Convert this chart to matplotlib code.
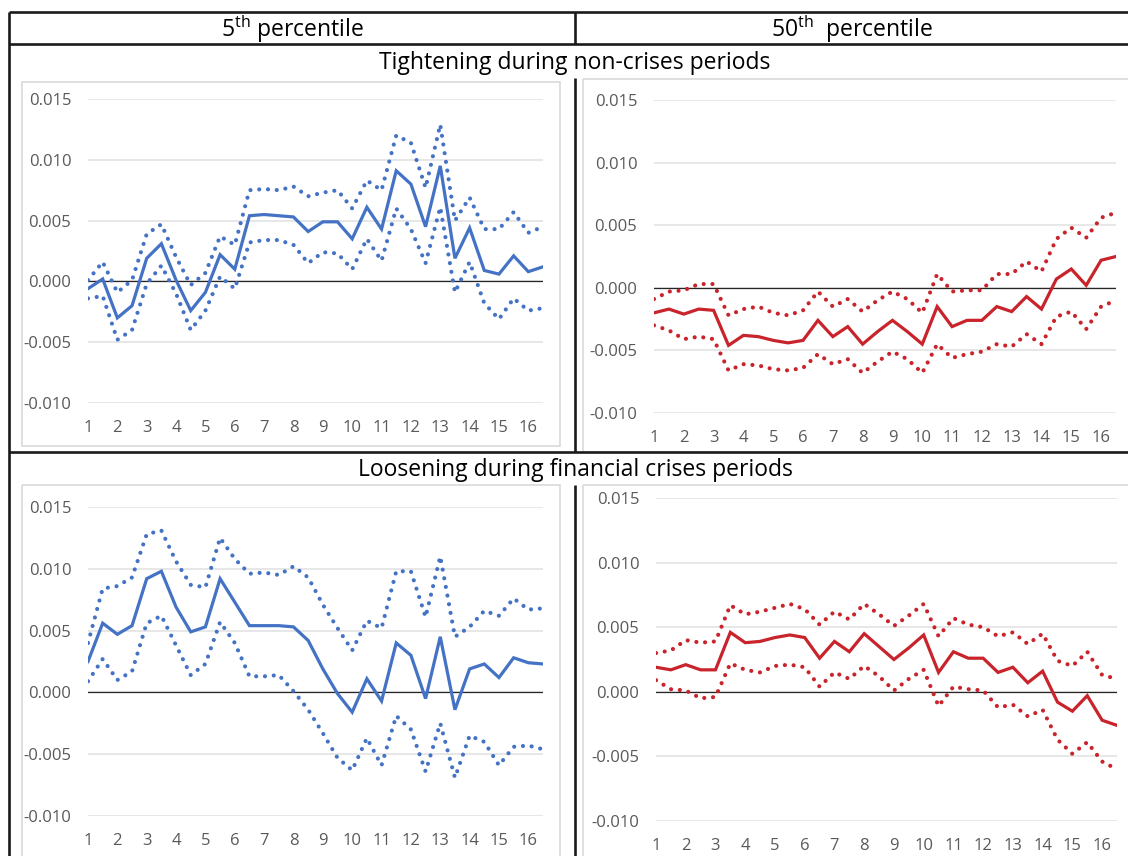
import numpy as np
import matplotlib.pyplot as plt
from matplotlib.patches import Rectangle
from matplotlib.ticker import FormatStrFormatter

plt.rcParams['font.family'] = ['Open Sans', 'DejaVu Sans']
plt.rcParams['mathtext.fontset'] = 'custom'
plt.rcParams['mathtext.rm'] = 'Open Sans'

# horizon labels shown on every second step (32 half-period steps)
horizon_labels = [str(h) for h in range(1, 17)]
y_ticks = [-0.010, -0.005, 0.0, 0.005, 0.010, 0.015]

# Tightening during non-crises periods, 5th percentile
tight_p5 = [-0.0006, 0.0002, -0.0030, -0.0020, 0.0019, 0.0031, 0.0001, -0.0024,
            -0.0009, 0.0022, 0.0010, 0.0054, 0.0055, 0.0054, 0.0053, 0.0041,
            0.0049, 0.0049, 0.0035, 0.0061, 0.0043, 0.0091, 0.0080, 0.0045,
            0.0095, 0.0019, 0.0044, 0.0009, 0.0006, 0.0021, 0.0008, 0.0012]
tight_p5_up = [0.0001, 0.0016, -0.0009, 0.0001, 0.0039, 0.0047, 0.0020, -0.0003,
               0.0007, 0.0037, 0.0030, 0.0075, 0.0076, 0.0075, 0.0078, 0.0070,
               0.0073, 0.0075, 0.0060, 0.0083, 0.0075, 0.0120, 0.0114, 0.0077,
               0.0129, 0.0050, 0.0069, 0.0043, 0.0043, 0.0057, 0.0040, 0.0045]
tight_p5_lo = [-0.0014, -0.0012, -0.0048, -0.0040, -0.0002, 0.0013, -0.0010, -0.0040,
               -0.0024, 0.0004, -0.0006, 0.0032, 0.0034, 0.0034, 0.0030, 0.0015,
               0.0024, 0.0023, 0.0010, 0.0035, 0.0017, 0.0060, 0.0043, 0.0015,
               0.0061, -0.0009, 0.0016, -0.0018, -0.0031, -0.0014, -0.0024, -0.0022]

# Tightening during non-crises periods, 50th percentile
tight_p50 = [-0.0020, -0.0017, -0.0021, -0.0017, -0.0018, -0.0046, -0.0038, -0.0039,
             -0.0042, -0.0044, -0.0042, -0.0026, -0.0039, -0.0031, -0.0045, -0.0035,
             -0.0026, -0.0035, -0.0045, -0.0015, -0.0031, -0.0026, -0.0026, -0.0015,
             -0.0019, -0.0007, -0.0017, 0.0007, 0.0015, 0.0002, 0.0022, 0.0025]
tight_p50_up = [-0.0009, -0.0003, -0.0002, 0.0003, 0.0003, -0.0022, -0.0017, -0.0015,
                -0.0020, -0.0022, -0.0018, -0.0003, -0.0015, -0.0009, -0.0019, -0.0010,
                -0.0003, -0.0009, -0.0020, 0.0011, -0.0003, -0.0002, -0.0002, 0.0011,
                0.0011, 0.0021, 0.0013, 0.0039, 0.0048, 0.0040, 0.0056, 0.0060]
tight_p50_lo = [-0.0030, -0.0034, -0.0041, -0.0039, -0.0041, -0.0066, -0.0061, -0.0062,
                -0.0065, -0.0066, -0.0064, -0.0053, -0.0061, -0.0057, -0.0068, -0.0059,
                -0.0051, -0.0057, -0.0068, -0.0045, -0.0056, -0.0053, -0.0051, -0.0045,
                -0.0047, -0.0037, -0.0045, -0.0023, -0.0019, -0.0033, -0.0015, -0.0010]

# Loosening during financial crises periods, 5th percentile
loose_p5 = [0.0025, 0.0056, 0.0047, 0.0054, 0.0092, 0.0098, 0.0069, 0.0049,
            0.0053, 0.0092, 0.0073, 0.0054, 0.0054, 0.0054, 0.0053, 0.0042,
            0.0019, -0.0001, -0.0016, 0.0011, -0.0007, 0.0040, 0.0030, -0.0005,
            0.0045, -0.0014, 0.0019, 0.0023, 0.0012, 0.0028, 0.0024, 0.0023]
loose_p5_up = [0.0040, 0.0084, 0.0086, 0.0093, 0.0128, 0.0131, 0.0106, 0.0087,
               0.0085, 0.0125, 0.0108, 0.0096, 0.0097, 0.0095, 0.0102, 0.0093,
               0.0071, 0.0052, 0.0034, 0.0058, 0.0052, 0.0098, 0.0098, 0.0061,
               0.0110, 0.0045, 0.0053, 0.0066, 0.0062, 0.0076, 0.0067, 0.0068]
loose_p5_lo = [0.0009, 0.0027, 0.0010, 0.0017, 0.0056, 0.0062, 0.0038, 0.0014,
               0.0023, 0.0057, 0.0040, 0.0013, 0.0013, 0.0014, 0.0001, -0.0014,
               -0.0033, -0.0053, -0.0063, -0.0037, -0.0059, -0.0019, -0.0030, -0.0064,
               -0.0025, -0.0069, -0.0035, -0.0040, -0.0059, -0.0044, -0.0043, -0.0046]

# Loosening during financial crises periods, 50th percentile
loose_p50 = [0.0019, 0.0017, 0.0021, 0.0017, 0.0017, 0.0046, 0.0038, 0.0039,
             0.0042, 0.0044, 0.0042, 0.0026, 0.0039, 0.0031, 0.0045, 0.0035,
             0.0025, 0.0034, 0.0044, 0.0015, 0.0031, 0.0026, 0.0026, 0.0015,
             0.0019, 0.0007, 0.0016, -0.0008, -0.0015, -0.0003, -0.0022, -0.0026]
loose_p50_up = [0.0030, 0.0032, 0.0040, 0.0038, 0.0039, 0.0067, 0.0060, 0.0062,
                0.0065, 0.0068, 0.0064, 0.0052, 0.0062, 0.0056, 0.0068, 0.0060,
                0.0051, 0.0059, 0.0068, 0.0043, 0.0057, 0.0052, 0.0050, 0.0043,
                0.0046, 0.0037, 0.0045, 0.0024, 0.0020, 0.0031, 0.0013, 0.0010]
loose_p50_lo = [0.0009, 0.0002, 0.0001, -0.0005, -0.0004, 0.0022, 0.0017, 0.0015,
                0.0020, 0.0021, 0.0019, 0.0004, 0.0015, 0.0010, 0.0020, 0.0012,
                0.0001, 0.0010, 0.0017, -0.0011, 0.0004, 0.0002, 0.0001, -0.0012,
                -0.0010, -0.0019, -0.0014, -0.0037, -0.0048, -0.0039, -0.0054, -0.0060]

BLUE = '#4472C4'
RED = '#C9232B'
W, H = 1128, 856

fig = plt.figure(figsize=(W / 100, H / 100), dpi=100)

# background layer in pixel units for the table frame
bg = fig.add_axes([0, 0, 1, 1], zorder=-1)
bg.set_xlim(0, W)
bg.set_ylim(H, 0)
bg.axis('off')

# light grey chart-area borders
for x0, y0, x1, y1 in [(22, 82, 560, 446), (583, 79, 1140, 452),
                       (22, 485, 560, 870), (583, 485, 1140, 870)]:
    bg.add_patch(Rectangle((x0, y0), x1 - x0, y1 - y0, fill=False,
                           edgecolor='#D9D9D9', lw=1.2))

# black table rules
rules = [((9, 1128), (12, 12)), ((9, 1128), (44, 44)), ((9, 1128), (452, 452)),
         ((9, 9), (12, 856)), ((575, 575), (12, 44)),
         ((575, 575), (78, 452)), ((575, 575), (485, 856))]
for xs, ys in rules:
    bg.plot(xs, ys, color='#1A1A1A', lw=1.9, solid_capstyle='butt')

bg.text(292, 29, r'5$^{\mathrm{th}}$ percentile', fontsize=16.5, ha='center', va='center')
bg.text(852, 29, r'50$^{\mathrm{th}}$  percentile', fontsize=16.5, ha='center', va='center')
bg.text(575, 63, 'Tightening during non-crises periods', fontsize=16.5,
        ha='center', va='center')
bg.text(575, 470, 'Loosening during financial crises periods', fontsize=16.5,
        ha='center', va='center')


def panel_axes(x0, x1, y_top, y_bot):
    return fig.add_axes([x0 / W, 1 - y_bot / H, (x1 - x0) / W, (y_bot - y_top) / H])


def draw_panel(ax, mid, upper, lower, color):
    steps = np.arange(len(mid))
    dots = dict(color=color, lw=3.0, ls=(0, (0.01, 2.1)), dash_capstyle='round')
    ax.plot(steps, upper, **dots)
    ax.plot(steps, lower, **dots)
    ax.plot(steps, mid, color=color, lw=2.3, solid_joinstyle='miter')
    ax.axhline(0, color='#262626', lw=0.9, zorder=1)
    ax.set_xlim(0, len(mid) - 1)
    ax.set_ylim(-0.010, 0.015)
    ax.set_yticks(y_ticks)
    ax.yaxis.set_major_formatter(FormatStrFormatter('%.3f'))
    ax.set_xticks(steps[::2])
    ax.set_xticklabels(horizon_labels)
    ax.grid(axis='y', color='#E0E0E0', lw=1.1, zorder=0)
    ax.set_axisbelow(True)
    for s in ax.spines.values():
        s.set_visible(False)
    ax.tick_params(length=0, labelsize=12, colors='#595959')
    ax.tick_params(axis='y', pad=12)
    ax.tick_params(axis='x', pad=12)


ax_tl = panel_axes(88, 543, 99, 403)
draw_panel(ax_tl, tight_p5, tight_p5_up, tight_p5_lo, BLUE)
ax_tr = panel_axes(654, 1116, 100, 413)
draw_panel(ax_tr, tight_p50, tight_p50_up, tight_p50_lo, RED)
ax_bl = panel_axes(88, 543, 507, 816)
draw_panel(ax_bl, loose_p5, loose_p5_up, loose_p5_lo, BLUE)
ax_br = panel_axes(656, 1117, 498, 821)
draw_panel(ax_br, loose_p50, loose_p50_up, loose_p50_lo, RED)

fig.savefig('out.png', dpi=100)
